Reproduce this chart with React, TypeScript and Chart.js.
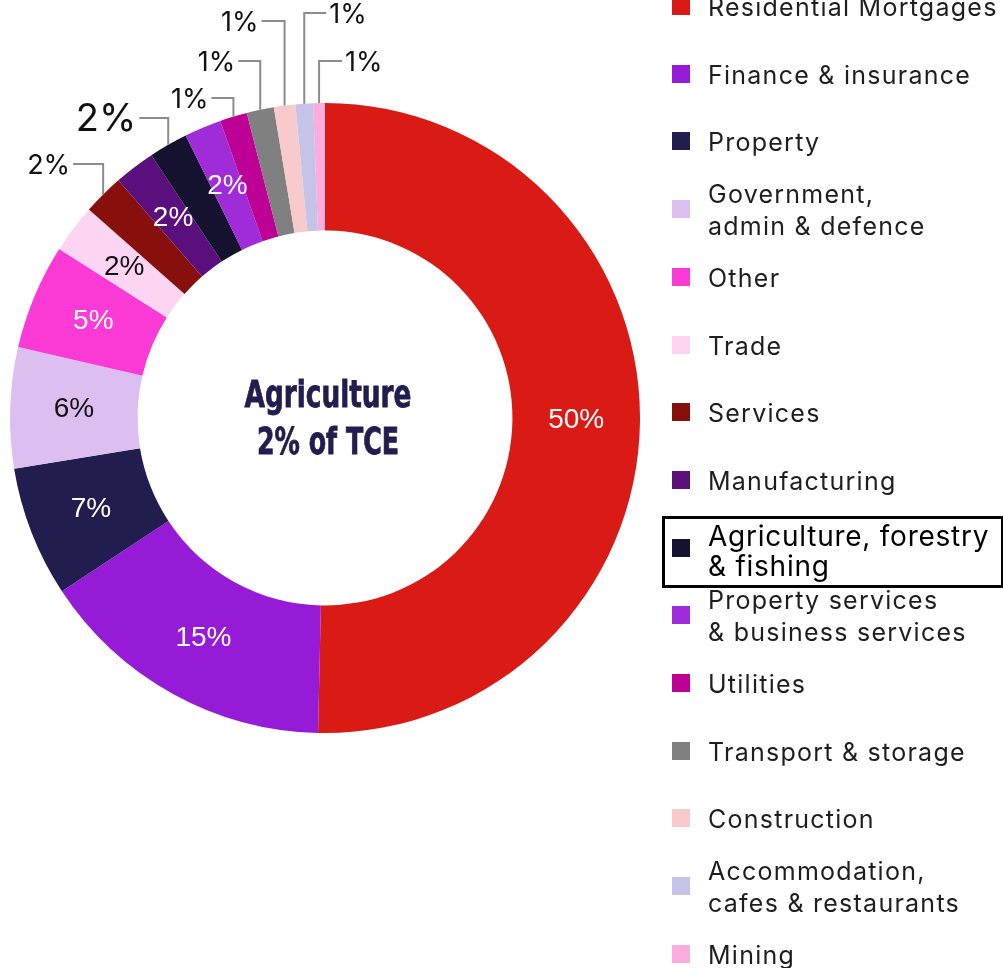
import React, { useEffect, useRef } from "react";
import { Chart, registerables } from "chart.js";

Chart.register(...registerables);

// ---- Data ----
const categories = [
  "Residential Mortgages",
  "Finance & insurance",
  "Property",
  "Government,\nadmin & defence",
  "Other",
  "Trade",
  "Services",
  "Manufacturing",
  "Agriculture, forestry\n& fishing",
  "Property services\n& business services",
  "Utilities",
  "Transport & storage",
  "Construction",
  "Accommodation,\ncafes & restaurants",
  "Mining",
];
const shares = [50.4, 15.4, 6.7, 6.2, 5.4, 2.5, 2.1, 2.1, 2.0, 1.9, 1.4, 1.4, 1.1, 0.9, 0.6];
const shareLabels = ["50%", "15%", "7%", "6%", "5%", "2%", "2%", "2%", "2%", "2%", "1%", "1%", "1%", "1%", "1%"];
const sliceColors = [
  "#DA1A14",
  "#961BD6",
  "#221D4F",
  "#DDBEF1",
  "#FC3BD7",
  "#FED4F3",
  "#87100D",
  "#5B0F7C",
  "#14122F",
  "#A02BD8",
  "#BE0096",
  "#808080",
  "#F9CACB",
  "#C6C3E9",
  "#FBADDF",
];
const highlightIndex = 8;
const centerLines = ["Agriculture", "2% of TCE"];

// ---- Styling / layout (not data) ----
const darkTextSlices = [3, 5];
const calloutLayout = [
  { index: 6, elbowY: 164, dir: -1, len: 30, size: 27 },
  { index: 8, elbowY: 118, dir: -1, len: 29, size: 38 },
  { index: 10, elbowY: 98, dir: -1, len: 22, size: 27 },
  { index: 11, elbowY: 61, dir: -1, len: 22, size: 27 },
  { index: 12, elbowY: 21, dir: -1, len: 23, size: 27 },
  { index: 13, elbowY: 13, dir: 1, len: 22, size: 27 },
  { index: 14, elbowY: 61, dir: 1, len: 23, size: 27 },
];

const W = 1003;
const H = 968;

const labelPlugin = {
  id: "sliceLabels",
  afterDatasetsDraw(chart: any) {
    const ctx = chart.ctx;
    const meta = chart.getDatasetMeta(0);
    const calloutIdx = new Set(calloutLayout.map((c) => c.index));
    ctx.save();
    meta.data.forEach((arc: any, i: number) => {
      const p = arc.getProps(["x", "y", "startAngle", "endAngle", "innerRadius", "outerRadius"], true);
      const mid = (p.startAngle + p.endAngle) / 2;
      if (!calloutIdx.has(i)) {
        const r = (p.innerRadius + p.outerRadius) / 2;
        ctx.font = '28px "Liberation Sans", Arial, sans-serif';
        ctx.fillStyle = darkTextSlices.includes(i) ? "#111111" : "#ffffff";
        ctx.textAlign = "center";
        ctx.textBaseline = "middle";
        ctx.fillText(shareLabels[i], p.x + Math.cos(mid) * r, p.y + Math.sin(mid) * r);
      }
    });
    calloutLayout.forEach((c) => {
      const arc = meta.data[c.index];
      const p = arc.getProps(["x", "y", "startAngle", "endAngle", "outerRadius"], true);
      const mid = (p.startAngle + p.endAngle) / 2;
      const ax = p.x + Math.cos(mid) * p.outerRadius;
      const ay = p.y + Math.sin(mid) * p.outerRadius;
      const ex = ax + c.dir * c.len;
      ctx.strokeStyle = "#8c8c8c";
      ctx.lineWidth = 2;
      ctx.beginPath();
      ctx.moveTo(ax, ay);
      ctx.lineTo(ax, c.elbowY);
      ctx.lineTo(ex, c.elbowY);
      ctx.stroke();
      ctx.font = `${c.size}px Inter, "Noto Sans", sans-serif`;
      ctx.fillStyle = "#111111";
      ctx.textBaseline = "middle";
      ctx.textAlign = c.dir < 0 ? "right" : "left";
      ctx.fillText(shareLabels[c.index], ex + c.dir * 3, c.elbowY + 2);
    });
    // center text
    const m0 = meta.data[0];
    const cx = m0.x + 3;
    const cy = m0.y;
    ctx.fillStyle = "#221D4F";
    ctx.textAlign = "center";
    ctx.textBaseline = "alphabetic";
    const targets = [167, 142];
    const baselines = [cy - 11, cy + 36];
    centerLines.forEach((t, k) => {
      ctx.font = 'bold 38px "Liberation Sans Narrow", "DejaVu Sans Condensed", "Roboto Condensed", sans-serif';
      const w = ctx.measureText(t).width;
      const s = targets[k] / w;
      ctx.save();
      ctx.translate(cx, baselines[k]);
      ctx.scale(s, 1);
      ctx.fillText(t, 0, 0);
      ctx.lineWidth = 0.8;
      ctx.strokeStyle = "#221D4F";
      ctx.strokeText(t, 0, 0);
      ctx.restore();
    });
    ctx.restore();
  },
};

function ChartCanvas() {
  const ref = useRef<HTMLCanvasElement | null>(null);
  useEffect(() => {
    if (!ref.current) return;
    const chart = new Chart(ref.current, {
      type: "doughnut",
      data: {
        labels: categories,
        datasets: [
          {
            data: shares,
            backgroundColor: sliceColors,
            borderWidth: 0,
          },
        ],
      },
      options: {
        animation: false,
        responsive: false,
        devicePixelRatio: 1,
        cutout: "59.5%",
        layout: { padding: { left: 10, top: 103, right: 363, bottom: 235 } },
        plugins: {
          legend: { display: false },
          tooltip: { enabled: false },
        },
        events: [],
      },
      plugins: [labelPlugin],
    });
    return () => chart.destroy();
  }, []);
  return (
    <canvas
      ref={ref}
      width={W}
      height={H}
      style={{ position: "absolute", left: 0, top: 0, width: W, height: H }}
    />
  );
}

function Legend() {
  return (
    <>
      {categories.map((c, i) => {
        const cy = 6 + 67.7 * i;
        const hi = i === highlightIndex;
        return (
          <div
            key={c}
            style={{
              position: "absolute",
              left: 672,
              top: cy - 40,
              height: 80,
              display: "flex",
              alignItems: "center",
              whiteSpace: "pre",
            }}
          >
            <div style={{ width: 18, height: 18, background: sliceColors[i], flex: "none" }} />
            <div
              style={{
                marginLeft: 18,
                fontFamily: "Inter, 'Noto Sans', sans-serif",
                fontSize: hi ? 28 : 25,
                letterSpacing: hi ? "0.75px" : "1.25px",
                lineHeight: hi ? "30px" : "32px",
                color: hi ? "#000" : "#1e1e1e",
                position: "relative",
                top: hi ? 3 : 1,
              }}
            >
              {c}
            </div>
          </div>
        );
      })}
      <div
        style={{
          position: "absolute",
          left: 662,
          top: 516,
          width: 336,
          height: 66,
          border: "3px solid #000",
        }}
      />
    </>
  );
}

export default function App() {
  return (
    <div style={{ position: "absolute", left: 0, top: 0, width: W, height: H, overflow: "hidden", background: "#fff" }}>
      <ChartCanvas />
      <Legend />
    </div>
  );
}
